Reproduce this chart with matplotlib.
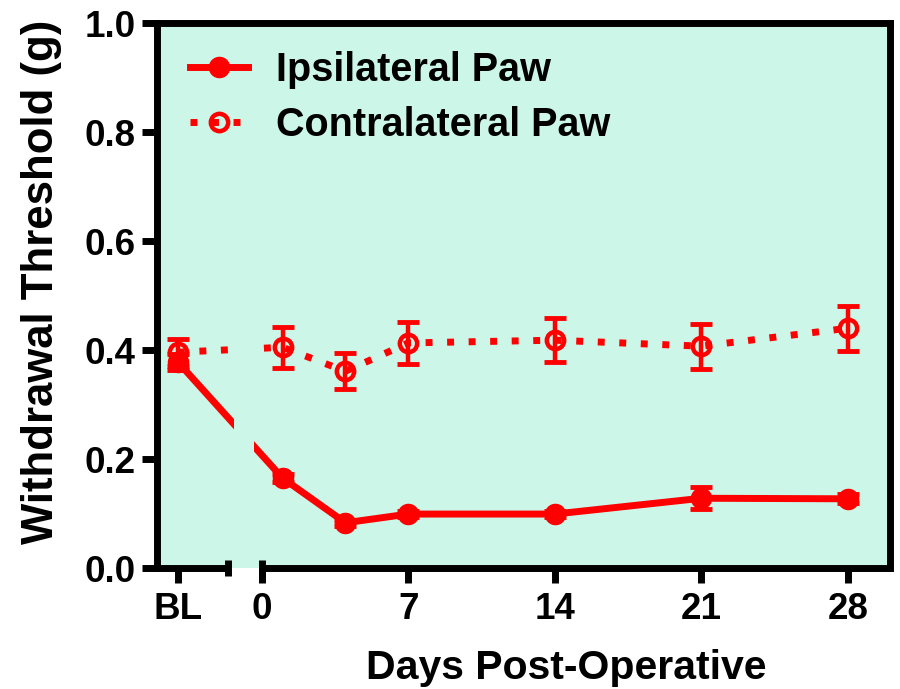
import matplotlib
matplotlib.use("Agg")
import matplotlib.pyplot as plt

# Datos
x_labels = ["BL", "0", "7", "14", "21", "28"]
x_ticks = [-4, 0, 7, 14, 21, 28]
days = [-4, 1, 4, 7, 14, 21, 28]  # BL se dibuja en -4

ipsi = [0.378, 0.165, 0.083, 0.099, 0.099, 0.128, 0.127]
ipsi_err = [0.015, 0.008, 0.006, 0.006, 0.006, 0.020, 0.008]
contra = [0.396, 0.405, 0.361, 0.413, 0.418, 0.407, 0.440]
contra_err = [0.025, 0.038, 0.033, 0.038, 0.040, 0.041, 0.041]

red = "#ff0000"
bg = "#ccf7e8"

plt.rcParams["font.family"] = ["Liberation Sans", "DejaVu Sans"]
plt.rcParams["font.weight"] = "bold"

fig = plt.figure(figsize=(9, 6.89), dpi=100)
ax = fig.add_axes([0.1744, 0.1756, 0.8144, 0.791])
ax.set_facecolor(bg)

# barras de error
ax.errorbar(days, ipsi, yerr=ipsi_err, fmt="none", ecolor=red,
            elinewidth=3.2, capsize=8, capthick=3.5, zorder=2)
ax.errorbar(days, contra, yerr=contra_err, fmt="none", ecolor=red,
            elinewidth=3.2, capsize=8, capthick=3.5, zorder=2)

# curvas
ax.plot(days, ipsi, color=red, lw=5, marker="o", ms=14.5,
        label="Ipsilateral Paw", zorder=2)
ax.plot(days, contra, color=red, lw=5, ls=(0, (1.0, 2.1)), dash_capstyle="butt",
        marker="o", ms=12.5, mfc="none", mew=3.2,
        label="Contralateral Paw", zorder=2)

# hueco del eje roto
ax.axvspan(-1.3, -0.35, color=bg, lw=0, zorder=2.5)

ax.set_xlim(-5, 30)
ax.set_ylim(0, 1.0)
ax.set_xticks(x_ticks)
ax.set_xticklabels(x_labels)
ax.set_yticks([0, 0.2, 0.4, 0.6, 0.8, 1.0])
ax.set_yticklabels(["0.0", "0.2", "0.4", "0.6", "0.8", "1.0"])

for s in ax.spines.values():
    s.set_linewidth(5)
ax.spines["bottom"].set_visible(False)
ax.tick_params(axis="both", direction="out", length=10.5, width=5, labelsize=26.5, pad=5)
ax.tick_params(axis="x", pad=7)

# eje x en dos tramos con marcas de corte
tr = ax.get_xaxis_transform()
ax.plot([-5, -1.6], [0, 0], color="black", lw=5, transform=tr, clip_on=False, solid_capstyle="butt")
ax.plot([0, 30], [0, 0], color="black", lw=5, transform=tr, clip_on=False, solid_capstyle="butt")
ax.plot([-1.6, 0], [0, 0], ls="none", marker="|", ms=11.5, mew=5, color="black",
        transform=tr, clip_on=False)

ax.set_xlabel("Days Post-Operative", fontsize=29.5, fontweight="bold")
ax.xaxis.set_label_coords(0.558, -0.148)
ax.set_ylabel("Withdrawal Threshold (g)", fontsize=31.5, fontweight="bold")
ax.yaxis.set_label_coords(-0.13, 0.525)

leg = ax.legend(loc="upper left", frameon=False, fontsize=28.5, handlelength=1.47,
                handletextpad=0.7, labelspacing=0.43, borderaxespad=0, borderpad=0,
                bbox_to_anchor=(0.045, 0.949))
for t in leg.get_texts():
    t.set_fontweight("bold")

fig.savefig("out.png", dpi=100)
